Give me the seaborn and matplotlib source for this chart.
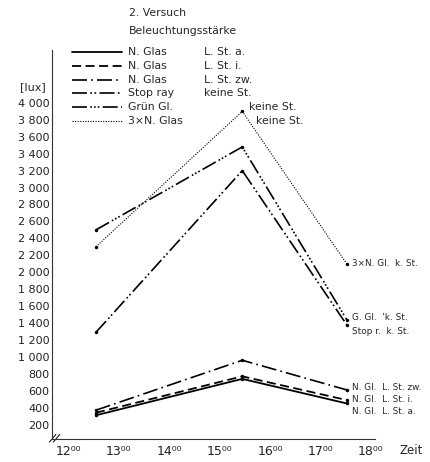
import matplotlib
matplotlib.use("Agg")
import matplotlib.pyplot as plt
from matplotlib.lines import Line2D
import seaborn as sns
import pandas as pd

# times of the three readings (hours) and illuminance in lux
times = [12.55, 15.45, 17.52]
n_glas_a = [310, 740, 450]
n_glas_i = [340, 770, 490]
n_glas_zw = [370, 960, 610]
stop_ray = [1290, 3200, 1380]
gruen_gl = [2500, 3480, 1440]
drei_n_glas = [2300, 3900, 2100]

names = ["N. Glas", "N. Glas", "N. Glas", "Stop ray", "Grün Gl.", "3\u00d7N. Glas"]
conditions = ["L. St. a.", "L. St. i.", "L. St. zw.", "keine St.", "keine St.", "keine St."]
end_labels = ["N. Gl.  L. St. a.", "N. Gl.  L. St. i.", "N. Gl.  L. St. zw.",
              "Stop r.  k. St.", "G. Gl.  'k. St.", "3\u00d7N. Gl.  k. St."]
hour_ticks = [12, 13, 14, 15, 16, 17, 18]
lux_ticks = list(range(200, 4001, 200))

series = [n_glas_a, n_glas_i, n_glas_zw, stop_ray, gruen_gl, drei_n_glas]
styles = ["-", (0, (5, 2.5)), (0, (9, 2.5, 1, 2.5)), (0, (9, 2, 1, 1.5, 1, 2)),
          (0, (9, 2, 1, 1.2, 1, 1.2, 1, 2)), (0, (1, 1.3))]
widths = [1.3, 1.3, 1.2, 1.2, 1.2, 0.8]

rows = []
for i, vals in enumerate(series):
    for t, v in zip(times, vals):
        rows.append({"series": i, "time": t, "lux": v})
df = pd.DataFrame(rows)

sns.set_style("white")
plt.rcParams["font.family"] = ["DejaVu Sans"]

fig = plt.figure(figsize=(4.3, 4.62), dpi=100)
ax = fig.add_axes([0.121, 0.0498, 0.751, 0.842])

for i in range(len(series)):
    sub = df[df["series"] == i]
    sns.lineplot(data=sub, x="time", y="lux", ax=ax, color="black",
                 linestyle=styles[i], lw=widths[i], marker="o", markersize=2.5,
                 markeredgewidth=0, legend=False)

ax.set_xlim(11.68, 18.08)
ax.set_ylim(30, 4625)
ax.set_xticks(hour_ticks)
ax.set_xticklabels([f"{h}\u2070\u2070" for h in hour_ticks], fontsize=9)
ax.set_yticks(lux_ticks)
ax.set_yticklabels([f"{v:,}".replace(",", " ") for v in lux_ticks], fontsize=8)
ax.set_xlabel("")
ax.set_ylabel("")
ax.tick_params(axis="x", direction="in", length=6, width=0.7, pad=4, colors="#222222")
ax.tick_params(axis="y", direction="in", length=8, width=0.7, pad=2, colors="#222222")
sns.despine(ax=ax)
for side in ["left", "bottom"]:
    ax.spines[side].set_linewidth(0.8)
    ax.spines[side].set_color("#333333")

# axis break mark
for dx in [0.0, 0.012]:
    ax.plot([-0.008 + dx, 0.012 + dx], [-0.008, 0.012], transform=ax.transAxes,
            color="black", lw=0.7, clip_on=False)

ax.text(1.075, -0.03, "Zeit", transform=ax.transAxes, fontsize=8.5, va="center")
fig.text(20 / 430, 1 - 87 / 462, "[lux]", fontsize=8, va="center")

# end labels at the right
label_y = [1 - 412 / 462, 1 - 400 / 462, 1 - 388 / 462, 1 - 331 / 462, 1 - 318 / 462, 1 - 264 / 462]
for txt, y in zip(end_labels, label_y):
    fig.text(352 / 430, y, txt, fontsize=6.4, va="center")

# title and legend
fig.text(129 / 430, 1 - 13 / 462, "2. Versuch", fontsize=7.8, va="center")
fig.text(129 / 430, 1 - 31 / 462, "Beleuchtungsstärke", fontsize=7.8, va="center")
row_y = [52, 66, 80, 93, 107, 121]
cond_x = [204, 204, 204, 204, 249, 256]
for i in range(len(names)):
    y = 1 - row_y[i] / 462
    fig.add_artist(Line2D([72 / 430, 122 / 430], [y, y], transform=fig.transFigure,
                          color="black", lw=widths[i], linestyle=styles[i]))
    fig.text(128 / 430, y, names[i], fontsize=7.8, va="center")
    fig.text(cond_x[i] / 430, y, conditions[i], fontsize=7.8, va="center")

fig.savefig("out.png", dpi=100)
